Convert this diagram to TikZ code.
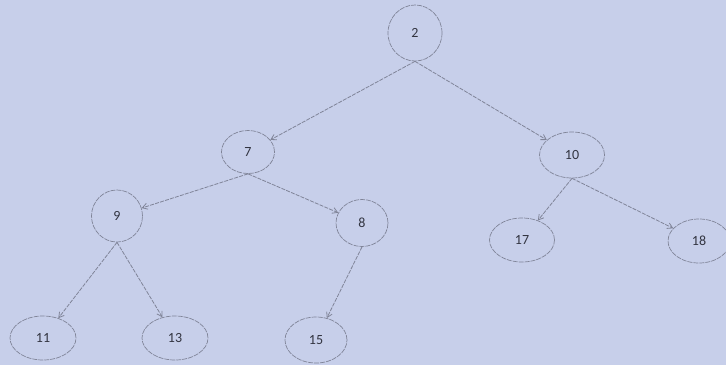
\documentclass[tikz,border=0pt]{standalone}
\usepackage{fontspec}
\setmainfont{Carlito}
\usetikzlibrary{arrows.meta,shapes.geometric}
\definecolor{bg}{RGB}{199,207,234}
\definecolor{ln}{RGB}{128,132,152}
\definecolor{tx}{RGB}{50,52,64}
\tikzset{
  tn/.style={ellipse,draw=ln,line width=0.7pt,dash pattern=on 5pt off 1pt,
             text=tx,inner sep=0pt,font=\fontsize{14}{14}\selectfont},
  edge/.style={draw=ln,line width=0.8pt,dash pattern=on 4pt off 1.2pt,
               -{Straight Barb[length=5pt,width=6pt]}}
}
\begin{document}
\begin{tikzpicture}[x=1pt,y=-1pt]
\fill[bg] (0,0) rectangle (726,365);
\useasboundingbox (0,0) rectangle (726,365);
\node[tn,minimum width=54pt,minimum height=56pt] (n2)  at (415,33)  {2};
\node[tn,minimum width=53pt,minimum height=43pt] (n7)  at (248,152) {7};
\node[tn,minimum width=65pt,minimum height=46pt] (n10) at (572,155) {10};
\node[tn,minimum width=51pt,minimum height=52pt] (n9)  at (117,216) {9};
\node[tn,minimum width=52pt,minimum height=47pt] (n8)  at (362,223) {8};
\node[tn,minimum width=65pt,minimum height=44pt] (n17) at (522,240) {17};
\node[tn,minimum width=62pt,minimum height=44pt] (n18) at (699,241) {18};
\node[tn,minimum width=66pt,minimum height=44pt] (n11) at (43,338)  {11};
\node[tn,minimum width=66pt,minimum height=44pt] (n13) at (175,338) {13};
\node[tn,minimum width=62pt,minimum height=46pt] (n15) at (316,340) {15};
\draw[edge] (n2.south) -- (n7);
\draw[edge] (n2.south) -- (n10);
\draw[edge] (n7.south) -- (n9);
\draw[edge] (n7.south) -- (n8);
\draw[edge] (n9.south) -- (n11);
\draw[edge] (n9.south) -- (n13);
\draw[edge] (n8.south) -- (n15);
\draw[edge] (n10.south) -- (n17);
\draw[edge] (n10.south) -- (n18);
\end{tikzpicture}
\end{document}
